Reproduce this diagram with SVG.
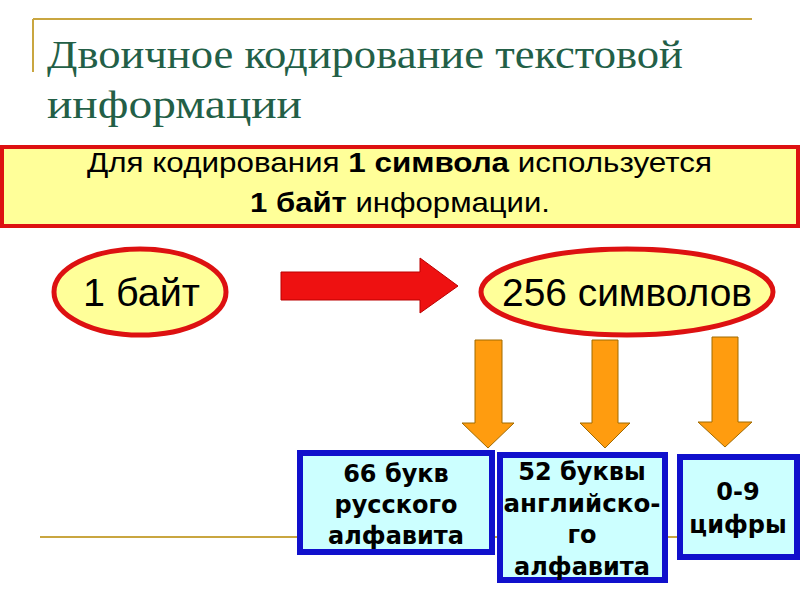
<svg xmlns="http://www.w3.org/2000/svg" width="800" height="600" viewBox="0 0 800 600">
<style>
.gold{stroke:#c9a640;stroke-width:2;fill:none}
.title{font-family:"Liberation Serif","DejaVu Serif",serif;font-size:40px;fill:#235f47}
.body{font-family:"Liberation Sans","DejaVu Sans",sans-serif;fill:#000}
.oval{fill:#ffff99;stroke:#dd1111;stroke-width:5}
.box{fill:#ccffff;stroke:#1010cc;stroke-width:6}
.lbl{font-family:"DejaVu Sans","Liberation Sans",sans-serif;font-weight:bold;font-size:24px;fill:#000;text-anchor:middle}
.orange{fill:#ff9c0f;stroke:#a06a00;stroke-width:1}
</style>
<rect width="800" height="600" fill="#fff"/>
<g id="decor">
<line class="gold" x1="33" y1="19" x2="752" y2="19"/>
<line class="gold" x1="33" y1="19" x2="33" y2="72"/>
<line class="gold" x1="40" y1="537" x2="800" y2="537"/>
</g>
<g id="title">
<text class="title" x="47" y="68" textLength="636" lengthAdjust="spacingAndGlyphs">Двоичное кодирование текстовой</text>
<text class="title" x="47" y="118" textLength="255" lengthAdjust="spacingAndGlyphs">информации</text>
</g>
<g id="banner">
<rect x="2" y="147" width="796" height="79" fill="#ffff99" stroke="#dd1111" stroke-width="4"/>
<text class="body" x="87" y="172" font-size="28" textLength="625" lengthAdjust="spacingAndGlyphs">Для кодирования <tspan font-weight="bold">1 символа</tspan> используется</text>
<text class="body" x="250" y="212" font-size="28" textLength="300" lengthAdjust="spacingAndGlyphs"><tspan font-weight="bold">1 байт</tspan> информации.</text>
</g>
<g id="connectors">
<polygon points="281,272 420,272 420,258 458,286 420,313 420,300 281,300" fill="#ee1111" stroke="#bb0000" stroke-width="1"/>
<polygon class="orange" points="475,340 502,340 502,423 514,423 488,448 462,423 475,423"/>
<polygon class="orange" points="592,340 618,340 618,423 630,423 605,448 580,423 592,423"/>
<polygon class="orange" points="712,337 738,337 738,422 752,422 725,447 698,422 712,422"/>
</g>
<g id="node-byte">
<ellipse class="oval" cx="140" cy="292" rx="86" ry="43"/>
<text class="body" x="83" y="306" font-size="39" textLength="117" lengthAdjust="spacingAndGlyphs">1 байт</text>
</g>
<g id="node-256">
<ellipse class="oval" cx="627" cy="292" rx="146" ry="43"/>
<text class="body" x="502" y="306" font-size="39" textLength="250" lengthAdjust="spacingAndGlyphs">256 символов</text>
</g>
<g id="node-russian">
<rect class="box" x="300" y="453" width="192" height="99"/>
<text class="lbl" x="396" y="482">66 букв</text>
<text class="lbl" x="396" y="513">русского</text>
<text class="lbl" x="396" y="544">алфавита</text>
</g>
<g id="node-english">
<rect class="box" x="500" y="455" width="165" height="125"/>
<text class="lbl" x="582" y="480">52 буквы</text>
<text class="lbl" x="582" y="512" textLength="157" lengthAdjust="spacingAndGlyphs">английско-</text>
<text class="lbl" x="582" y="543">го</text>
<text class="lbl" x="582" y="575">алфавита</text>
</g>
<g id="node-digits">
<rect class="box" x="680" y="457" width="117" height="100"/>
<text class="lbl" x="738" y="500">0-9</text>
<text class="lbl" x="738" y="533">цифры</text>
</g>
</svg>
